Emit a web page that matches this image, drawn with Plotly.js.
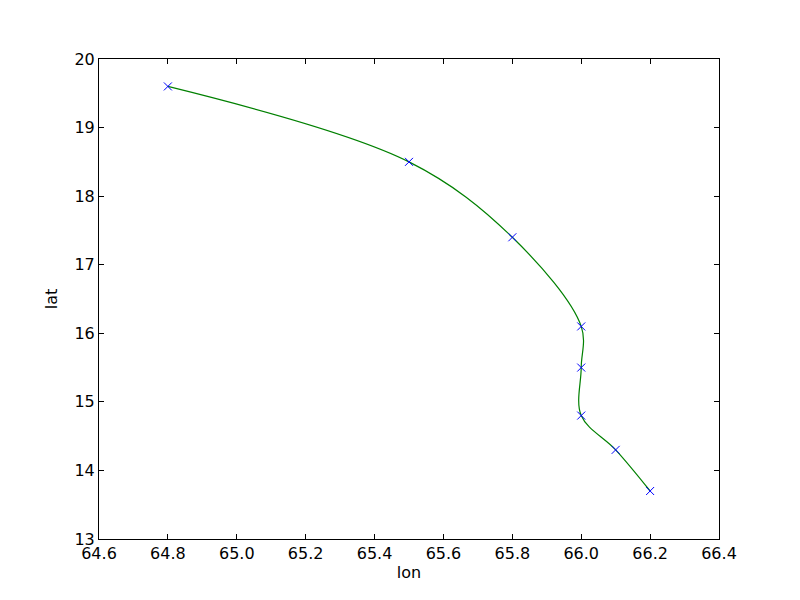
<!DOCTYPE html>
<html>
<head>
<meta charset="utf-8">
<script src="https://cdn.plot.ly/plotly-3.0.1.min.js"></script>
<style>html,body{margin:0;padding:0;background:#fff;}#chart{width:800px;height:600px;}</style>
</head>
<body>
<div id="chart"></div>
<script>
var lon = [64.8, 65.5, 65.8, 66.0, 66.0, 66.0, 66.1, 66.2];
var lat = [19.6, 18.5, 17.4, 16.1, 15.5, 14.8, 14.3, 13.7];
var xTicks = [64.6, 64.8, 65.0, 65.2, 65.4, 65.6, 65.8, 66.0, 66.2, 66.4];
var yTicks = [13, 14, 15, 16, 17, 18, 19, 20];

var traces = [
  {x: lon, y: lat, mode: 'lines', type: 'scatter',
   line: {color: '#008000', width: 1.2, shape: 'spline', smoothing: 1.0}, hoverinfo: 'skip'},
  {x: lon, y: lat, mode: 'markers', type: 'scatter',
   marker: {symbol: 'x-thin-open', size: 8, color: '#0000ff', line: {color: '#0000ff', width: 1}}}
];
var axisBase = {showgrid: false, zeroline: false, showline: true, mirror: 'ticks', linecolor: '#000', linewidth: 1,
  ticks: 'inside', ticklen: 5, tickcolor: '#000', tickfont: {family: 'DejaVu Sans', size: 16, color: '#000'}};
var layout = {
  width: 800, height: 600,
  margin: {l: 99, r: 81, t: 59, b: 61},
  paper_bgcolor: '#fff', plot_bgcolor: '#fff',
  showlegend: false,
  font: {family: 'DejaVu Sans', color: '#000'},
  xaxis: Object.assign({}, axisBase, {range: [64.6, 66.4], tickvals: xTicks,
    ticktext: xTicks.map(function(v){return v.toFixed(1);}),
    title: {text: 'lon', font: {family: 'DejaVu Sans', size: 16}, standoff: 4}}),
  yaxis: Object.assign({}, axisBase, {range: [13, 20], tickvals: yTicks,
    ticktext: yTicks.map(String),
    title: {text: 'lat', font: {family: 'DejaVu Sans', size: 16}, standoff: 12}})
};
Plotly.newPlot('chart', traces, layout, {displayModeBar: false, staticPlot: true});
</script>
</body>
</html>
